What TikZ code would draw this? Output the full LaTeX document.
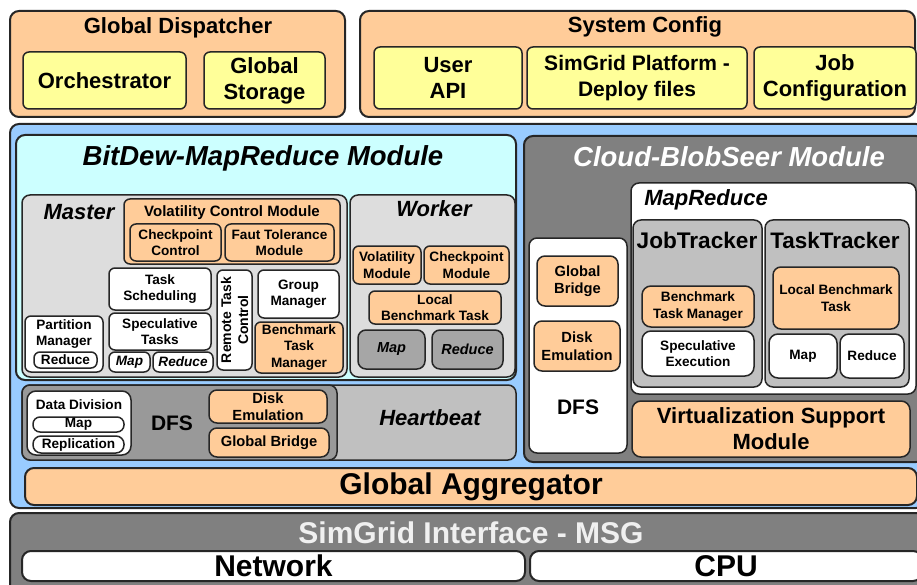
\documentclass[tikz,border=0pt]{standalone}
\usepackage{fontspec}
\setmainfont{Liberation Sans}
\usepackage{tikz}
\usetikzlibrary{positioning}
\definecolor{orangebox}{HTML}{FFCC99}
\definecolor{yellowbox}{HTML}{FFFF99}
\definecolor{bluebg}{HTML}{99CCFF}
\definecolor{cyanbg}{HTML}{CCFFFF}
\definecolor{graylight}{HTML}{DDDDDD}
\definecolor{graymid}{HTML}{C0C0C0}
\definecolor{graydfs}{HTML}{999999}
\definecolor{graymap}{HTML}{A6A6A6}
\definecolor{graydark}{HTML}{808080}
\newcommand{\fzsmall}{\fontsize{13.6}{16.5}\selectfont\bfseries}
\newcommand{\fzmid}{\fontsize{14.7}{17.5}\selectfont\bfseries}
\newcommand{\fzbig}{\fontsize{22}{26}\selectfont\bfseries}
\newcommand{\fzhead}{\fontsize{27.5}{32}\selectfont\bfseries\itshape}
\newcommand{\fzbase}{\fontsize{30}{34}\selectfont\bfseries}

\begin{document}
\begin{tikzpicture}[
    x=1pt, y=-1pt,
    box/.style={rectangle, draw=black!85, line width=1.5pt, rounded corners=6pt, inner sep=0pt, align=center, font=\fzsmall},
    area/.style={box, line width=2pt, rounded corners=9pt},
    sz/.style 2 args={minimum width=#1, minimum height=#2},
    hdr/.style={inner sep=0pt, align=center, font=\fzbig}
]
\useasboundingbox (0,0) rectangle (917,585);

% Global dispatcher
\node[area, fill=orangebox, sz={335}{106}] (dispatcher) at (177.5,64) {};
\node[hdr] at (178,28) {Global Dispatcher};
\node[box, fill=yellowbox, sz={163}{57}, font=\fzbig] (orch) at (104.5,80.5) {Orchestrator};
\node[box, fill=yellowbox, sz={121}{57}, font=\fzbig] (gstorage) at (264.5,80.5) {Global\\Storage};

% System config
\node[area, fill=orangebox, sz={555}{106}] (sysconfig) at (637.5,64) {};
\node[hdr] at (645,27) {System Config};
\node[box, fill=yellowbox, sz={148}{62}, font=\fzbig] (userapi) at (448,78) {User\\API};
\node[box, fill=yellowbox, sz={220}{62}, font=\fontsize{21}{26}\selectfont\bfseries] (platform) at (637,78) {SimGrid Platform -\\Deploy files};
\node[box, fill=yellowbox, sz={162}{62}, font=\fzbig] (jobconf) at (835,78) {Job\\Configuration};

% Simulator core
\node[area, fill=bluebg, sz={915}{384}] (core) at (467.5,316) {};

% BitDew-MapReduce module
\node[area, fill=cyanbg, sz={500}{245}] (bitdew) at (266,257.5) {};
\node[hdr, font=\fzhead] at (263,158) {BitDew-MapReduce Module};

% Master
\node[box, fill=graylight, sz={325}{182}, rounded corners=8pt] (master) at (184.5,286) {};
\node[hdr, font=\fzbig\itshape] at (79,212) {Master};
\node[box, fill=orangebox, sz={216}{65}] (volctrl) at (232,231.5) {};
\node[hdr, font=\fontsize{15}{18}\selectfont\bfseries] at (232,213) {Volatility Control Module};
\node[box, fill=orangebox, sz={91}{37}] (ckctrl) at (175.5,242.5) {Checkpoint\\Control};
\node[box, fill=orangebox, sz={109}{37}] (fault) at (279.5,242.5) {Faut Tolerance\\Module};
\node[box, fill=white, sz={102}{42}] (tasksched) at (160,289) {Task\\Scheduling};
\node[box, fill=white, sz={102}{37}] (spectasks) at (160,331.5) {Speculative\\Tasks};
\node[box, fill=white, sz={41}{20}, font=\fzsmall\itshape] (mmap) at (129.5,362) {Map};
\node[box, fill=white, sz={60}{20}, font=\fzsmall\itshape] (mreduce) at (183,362) {Reduce};
\node[box, fill=white, sz={78}{56}] (partition) at (64,344) {};
\node[hdr, font=\fzsmall] at (64,334) {Partition\\Manager};
\node[box, fill=white, sz={63}{16}] (preduce) at (65.5,360) {Reduce};
\node[box, fill=white, sz={100}{35}, rotate=90, font=\fontsize{14}{17}\selectfont\bfseries] (remote) at (234.5,320) {Remote Task\\Control};
\node[box, fill=white, sz={81}{48}] (group) at (298.5,294) {Group\\Manager};
\node[box, fill=orangebox, sz={88}{51}] (mbench) at (299,347.5) {Benchmark\\Task\\Manager};

% Worker
\node[box, fill=graylight, sz={165}{182}, rounded corners=8pt] (worker) at (432.5,286) {};
\node[hdr, font=\fzbig\itshape] at (434,209) {Worker};
\node[box, fill=orangebox, sz={68}{38}] (wvol) at (387,265) {Volatility\\Module};
\node[box, fill=orangebox, sz={85}{38}] (wck) at (466.5,265) {Checkpoint\\Module};
\node[box, fill=orangebox, sz={132}{33}] (wlocal) at (435,307.5) {Local\\Benchmark Task};
\node[box, fill=graymap, sz={67}{39}, rounded corners=8pt, font=\fontsize{14.5}{17}\selectfont\bfseries\itshape] (wmap) at (391.5,349.5) {Map};
\node[box, fill=graymap, sz={71}{39}, rounded corners=8pt, font=\fontsize{14.5}{17}\selectfont\bfseries\itshape] (wreduce) at (467.5,349.5) {Reduce};

% DFS and heartbeat row
\node[box, fill=graymid, sz={494}{75}, rounded corners=8pt] (heartrow) at (269,422.5) {};
\node[hdr, font=\fzbig\itshape] at (430,418) {Heartbeat};
\node[box, fill=graydfs, sz={315}{75}, rounded corners=8pt] (dfsrow) at (179.5,422.5) {};
\node[box, fill=white, sz={104}{64}, rounded corners=9pt] (datadiv) at (79,423) {};
\node[hdr, font=\fzsmall] at (79,405) {Data Division};
\node[box, fill=white, sz={91}{15}, rounded corners=7pt] (ddmap) at (78.5,424.5) {Map};
\node[box, fill=white, sz={91}{17}, rounded corners=8pt] (ddrep) at (78.5,444.5) {Replication};
\node[hdr, font=\fontsize{21}{25}\selectfont\bfseries] at (172,423) {DFS};
\node[box, fill=orangebox, sz={118}{33}, rounded corners=8pt, font=\fzmid] (ldisk) at (268,406.5) {Disk\\Emulation};
\node[box, fill=orangebox, sz={120}{29}, rounded corners=8pt, font=\fzmid] (lbridge) at (269,442.5) {Global Bridge};

% Cloud-BlobSeer module
\node[area, fill=graydark, sz={401}{326}] (cloud) at (724.5,299) {};
\node[hdr, font=\fzhead, text=white] at (729,157) {Cloud-BlobSeer Module};
\node[box, fill=white, sz={98}{215}, rounded corners=8pt] (cdfs) at (578,345.5) {};
\node[box, fill=orangebox, sz={81}{50}, rounded corners=8pt, font=\fzmid] (cbridge) at (577.5,281) {Global\\Bridge};
\node[box, fill=orangebox, sz={86}{50}, rounded corners=8pt, font=\fzmid] (cdisk) at (577,346) {Disk\\Emulation};
\node[hdr, font=\fontsize{21}{25}\selectfont\bfseries] at (578,407) {DFS};
\node[box, fill=white, sz={285}{211}, rounded corners=8pt] (mapred) at (773.5,288.5) {};
\node[hdr, font=\fzbig\itshape] at (706,200) {MapReduce};
\node[box, fill=graymid, sz={129}{167}, rounded corners=8pt] (jobtr) at (697.5,303.5) {};
\node[hdr, font=\fontsize{22.6}{26}\selectfont\bfseries] at (697,240) {JobTracker};
\node[box, fill=orangebox, sz={112}{41}, rounded corners=9pt] (jbench) at (698,306.5) {Benchmark\\Task Manager};
\node[box, fill=white, sz={112}{45}, rounded corners=9pt] (jspec) at (698,353.5) {Speculative\\Execution};
\node[box, fill=graymid, sz={144}{167}, rounded corners=8pt] (tasktr) at (837,303.5) {};
\node[hdr, font=\fontsize{22.4}{26}\selectfont\bfseries] at (835,240) {TaskTracker};
\node[box, fill=orangebox, sz={126}{62}, rounded corners=8pt] (tlocal) at (836,298) {Local Benchmark\\Task};
\node[box, fill=white, sz={68}{44}, rounded corners=9pt] (tmap) at (803,356) {Map};
\node[box, fill=white, sz={64}{44}, rounded corners=9pt] (treduce) at (872,356) {Reduce};
\node[box, fill=orangebox, sz={278}{56}, rounded corners=9pt, font=\fzbig] (virt) at (771,429) {Virtualization Support\\Module};

% Global aggregator
\node[area, fill=orangebox, sz={892}{37}, font=\fzbase] (aggregator) at (471,486.5) {Global Aggregator};

% SimGrid interface
\node[area, fill=graydark, sz={920}{90}] (simgrid) at (470,558) {};
\node[hdr, font=\fzbase, text=white!94!black] at (471,533) {SimGrid Interface - MSG};
\node[area, fill=white, sz={503}{30}, font=\fzbase] (network) at (273.5,566) {Network};
\node[area, fill=white, sz={392}{30}, font=\fzbase] (cpu) at (726,566) {CPU};

\end{tikzpicture}
\end{document}
